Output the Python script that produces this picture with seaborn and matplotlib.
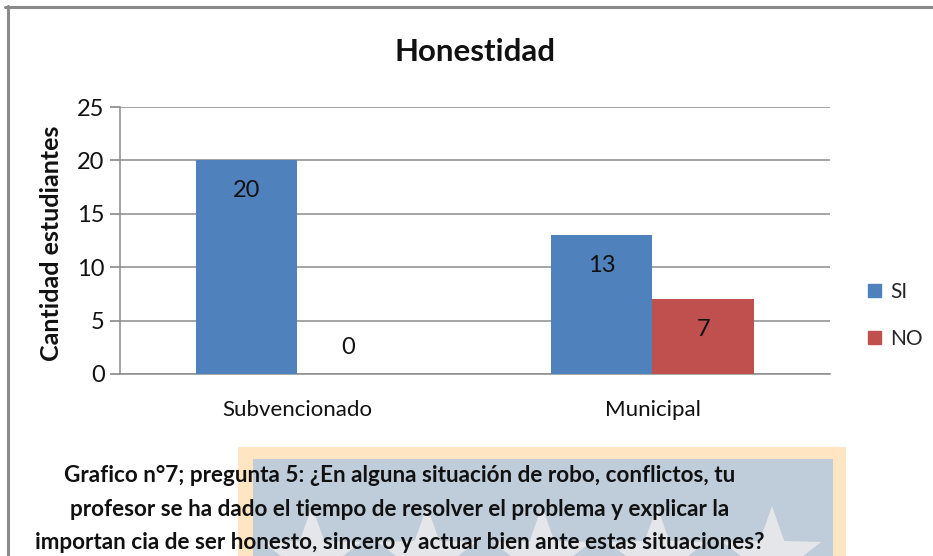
import matplotlib
matplotlib.use("Agg")
import matplotlib.pyplot as plt
import numpy as np
import pandas as pd
import seaborn as sns
from matplotlib.patches import Rectangle, Polygon
from matplotlib.lines import Line2D

categories = ["Subvencionado", "Municipal"]
series = ["SI", "NO"]
si_values = [20, 13]
no_values = [0, 7]
y_ticks = [0, 5, 10, 15, 20, 25]
title = "Honestidad"
y_label = "Cantidad estudiantes"
caption = ("Grafico n°7; pregunta 5: ¿En alguna situación de robo, conflictos, tu\n"
           "profesor se ha dado el tiempo de resolver el problema y explicar la\n"
           "importan cia de ser honesto, sincero y actuar bien ante estas situaciones?")

colors = {"SI": "#4F81BD", "NO": "#C0504D"}

df = pd.DataFrame({
    "categoria": categories * 2,
    "serie": ["SI"] * len(categories) + ["NO"] * len(categories),
    "valor": si_values + no_values,
})

sns.set_theme(style="white")
plt.rcParams["font.family"] = ["Lato", "DejaVu Sans"]

W, H = 933, 556
fig = plt.figure(figsize=(W / 100, H / 100), dpi=100)
fig.patch.set_facecolor("white")


def px(x, y):
    return x / W, 1 - y / H


# watermark block behind the caption
x0, y0 = px(238, 556)
x1, y1 = px(846, 447)
fig.add_artist(Rectangle((x0, y0), x1 - x0, y1 - y0, transform=fig.transFigure,
                         facecolor="#FFE5C1", edgecolor="none", zorder=0))
x0, y0 = px(253, 556)
x1, y1 = px(833, 459)
inner = Rectangle((x0, y0), x1 - x0, y1 - y0, transform=fig.transFigure,
                  facecolor="#BFCCD9", edgecolor="none", zorder=0)
fig.add_artist(inner)
for cx in [312, 427, 542, 657, 772]:
    ang = np.pi / 2 + np.arange(10) * np.pi / 5
    r = np.where(np.arange(10) % 2 == 0, 52, 21)
    pts = [px(cx + ri * np.cos(a), 558 - ri * np.sin(a)) for ri, a in zip(r, ang)]
    star = Polygon(pts, closed=True, transform=fig.transFigure,
                   facecolor="#E4E6EA", edgecolor="none", zorder=0.5)
    fig.add_artist(star)
    star.set_clip_path(inner)

# chart frame
fig.add_artist(Line2D([5 / W, 1], [1 - 7 / H] * 2, transform=fig.transFigure,
                      color="#8A8A8A", lw=2.2))
fig.add_artist(Line2D([8 / W] * 2, [0, 1 - 6 / H], transform=fig.transFigure,
                      color="#8A8A8A", lw=2.2))

ax = fig.add_axes([120 / W, 1 - 374 / H, 710 / W, 267 / H])
ax.set_facecolor("none")
sns.barplot(data=df, x="categoria", y="valor", hue="serie", hue_order=series,
            palette=colors, width=0.57, saturation=1, ax=ax, legend=True,
            edgecolor="none", zorder=3)

ax.set_ylim(0, 25)
ax.set_yticks(y_ticks)
ax.set_xlim(-0.5, 1.5)
ax.yaxis.grid(True, color="#8C8C8C", lw=1.1, zorder=0)
ax.set_axisbelow(True)
for side in ["top", "right"]:
    ax.spines[side].set_visible(False)
ax.spines["left"].set_color("#8C8C8C")
ax.spines["bottom"].set_color("#8C8C8C")
ax.spines["left"].set_linewidth(1.1)
ax.spines["bottom"].set_linewidth(1.1)
ax.tick_params(axis="y", left=True, length=7, color="#8C8C8C", labelsize=17,
               pad=4, labelcolor="#111111")
ax.tick_params(axis="x", bottom=False, labelsize=16, pad=13, labelcolor="#111111")
ax.set_xlabel("")
ax.set_ylabel(y_label, fontsize=18, fontweight="bold", color="#111111")
ax.yaxis.set_label_coords(-57 / 710, 0.49)
ax.set_title(title, fontsize=22.5, fontweight="bold", pad=33, color="#111111")

for bar in ax.patches:
    h = bar.get_height()
    if np.isnan(h) or bar.get_width() == 0:
        continue
    cx = bar.get_x() + bar.get_width() / 2
    offset = -22 if h > 0 else 19
    ax.annotate(f"{h:.0f}", (cx, h), xytext=(0, offset), textcoords="offset points",
                ha="center", va="center", fontsize=17, color="#111111", zorder=5)

handles = [Rectangle((0, 0), 1, 1, color=colors[s]) for s in series]
ax.legend(handles, series, loc="center left", bbox_to_anchor=(740 / 710, 0.22),
          frameon=False, fontsize=15, handlelength=0.6, handleheight=0.6,
          labelspacing=1.3, handletextpad=0.45, borderaxespad=0)

cx, cy = px(400, 509)
fig.text(cx, cy, caption, ha="center", va="center", fontsize=16.2, fontweight="bold",
         linespacing=1.72, color="#111111", zorder=3)

fig.savefig("out.png", dpi=100)
